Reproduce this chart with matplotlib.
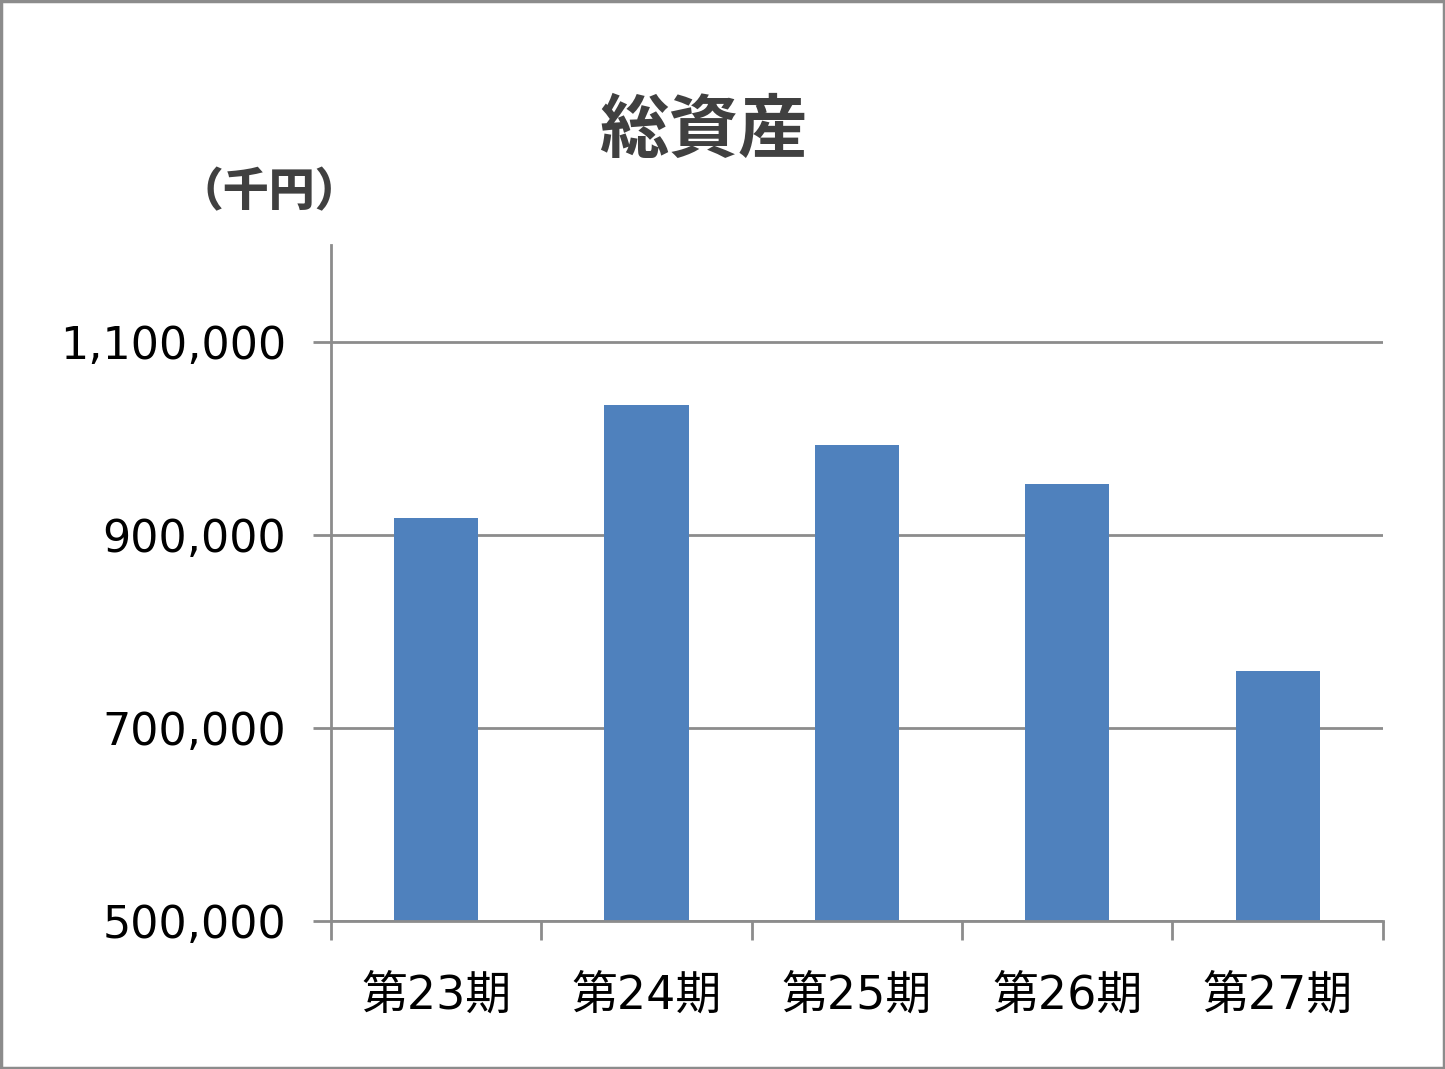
import matplotlib.pyplot as plt
from matplotlib.patches import Rectangle
from matplotlib.ticker import FuncFormatter

plt.rcParams['font.family'] = ['DejaVu Sans', 'Noto Sans CJK JP']

# data (千円)
periods = ['第23期', '第24期', '第25期', '第26期', '第27期']
total_assets = [917000, 1034000, 993000, 953000, 759000]
y_ticks = [500000, 700000, 900000, 1100000]

fig = plt.figure(figsize=(14.45, 10.69), dpi=100)
ax = fig.add_axes([0.229, 0.1385, 0.728, 0.6323])

grid_color = '#8c8c8c'
ax.set_axisbelow(True)
ax.yaxis.grid(True, color=grid_color, linewidth=2)
ax.bar(range(len(periods)), total_assets, width=0.4, color='#4F81BD', zorder=2)

ax.set_xlim(-0.5, len(periods) - 0.5)
ax.set_ylim(500000, 1200000)
ax.set_yticks(y_ticks)
ax.yaxis.set_major_formatter(FuncFormatter(lambda v, p: f'{int(v):,}'))
ax.set_xticks(range(len(periods)))
ax.set_xticklabels(periods)
ax.set_xticks([i - 0.5 for i in range(len(periods) + 1)], minor=True)

ax.tick_params(axis='y', length=13, width=2, color=grid_color, labelsize=32, pad=19)
ax.tick_params(axis='x', which='major', length=0, labelsize=33, pad=38)
ax.tick_params(axis='x', which='minor', length=14, width=2, color=grid_color)

for s in ['top', 'right']:
    ax.spines[s].set_visible(False)
for s in ['left', 'bottom']:
    ax.spines[s].set_color(grid_color)
    ax.spines[s].set_linewidth(2)

fig.text(0.487, 0.877, '総資産', ha='center', va='center', fontsize=50,
         fontweight='bold', color='#404040', family=['Noto Sans CJK JP'])
fig.text(0.186, 0.820, '（千円）', ha='center', va='center', fontsize=33,
         fontweight='heavy', color='#404040', family=['Noto Sans CJK JP'])

fig.patches.append(Rectangle((0.001, 0.001), 0.998, 0.998, transform=fig.transFigure,
                             fill=False, edgecolor='#8c8c8c', linewidth=2.5))

fig.savefig('out.png', dpi=100)
